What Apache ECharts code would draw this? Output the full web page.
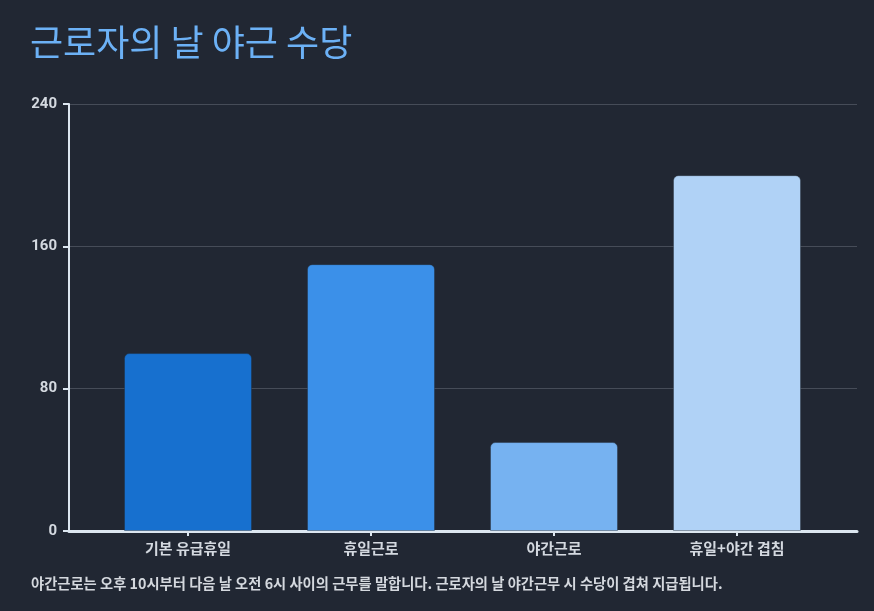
<!DOCTYPE html>
<html>
<head>
<meta charset="utf-8">
<script src="https://cdn.jsdelivr.net/npm/echarts@6/dist/echarts.min.js"></script>
<style>
  html, body { margin: 0; padding: 0; background: #212733; }
  #chart { width: 874px; height: 611px; }
</style>
</head>
<body>
<div id="chart"></div>
<script>
var categories = ['기본 유급휴일', '휴일근로', '야간근로', '휴일+야간 겹침'];
var values = [100, 150, 50, 200];
var barColors = ['#1770cf', '#3b90e9', '#76b2f1', '#b0d2f6'];
var yTicks = { min: 0, max: 240, interval: 80 };

var chart = echarts.init(document.getElementById('chart'));

var labelFont = 'Roboto, "Noto Sans CJK KR", sans-serif';

var option = {
  backgroundColor: '#212733',
  textStyle: { fontFamily: labelFont },
  title: [
    {
      text: '근로자의 날 야근 수당',
      left: 25,
      top: 19,
      textStyle: { color: '#6cb1f6', fontSize: 36, fontWeight: 'normal', fontFamily: 'Noto Sans CJK KR' }
    },
    {
      text: '야간근로는 오후 10시부터 다음 날 오전 6시 사이의 근무를 말합니다. 근로자의 날 야간근무 시 수당이 겹쳐 지급됩니다.',
      left: 26,
      top: 571,
      textStyle: { color: '#d4d8de', fontSize: 14.3, fontWeight: 'bold', fontFamily: 'Noto Sans CJK KR' }
    }
  ],
  // grid 0: frame, y axis and gridlines; grid 1: bars, inset from the frame
  grid: [
    { left: 69, right: 17, top: 104, bottom: 80 },
    { left: 96.5, right: 45.5, top: 104, bottom: 80 }
  ],
  xAxis: [
    {
      gridIndex: 0,
      type: 'value',
      min: 0,
      max: 1,
      axisLine: { show: true, lineStyle: { color: '#dce6f0', width: 3 } },
      axisTick: { show: false },
      axisLabel: { show: false },
      splitLine: { show: false }
    },
    {
      gridIndex: 1,
      type: 'category',
      data: categories,
      axisLine: { show: false },
      axisTick: { show: true, alignWithLabel: true, length: 5, lineStyle: { color: '#dce6f0', width: 2 } },
      axisLabel: { color: '#d4d9e0', fontSize: 15, fontWeight: 'bold', margin: 10, fontFamily: 'Noto Sans CJK KR' }
    }
  ],
  yAxis: [
    {
      gridIndex: 0,
      type: 'value',
      min: yTicks.min,
      max: yTicks.max,
      interval: yTicks.interval,
      axisLine: { show: true, lineStyle: { color: '#dce6f0', width: 2 } },
      axisTick: { show: true, length: 6, lineStyle: { color: '#dce6f0', width: 2 } },
      axisLabel: { color: '#d4d9e0', fontSize: 15, fontWeight: 'bold', margin: 12 },
      splitLine: { lineStyle: { color: '#464c58', width: 1 } }
    },
    {
      gridIndex: 1,
      type: 'value',
      min: yTicks.min,
      max: yTicks.max,
      interval: yTicks.interval,
      axisLine: { show: false },
      axisTick: { show: false },
      axisLabel: { show: false },
      splitLine: { show: false }
    }
  ],
  series: [
    {
      type: 'bar',
      xAxisIndex: 1,
      yAxisIndex: 1,
      barWidth: 128,
      data: values.map(function (v, i) {
        return { value: v, itemStyle: { color: barColors[i] } };
      }),
      itemStyle: { borderRadius: [5, 5, 0, 0], borderColor: 'rgba(33,39,51,0.4)', borderWidth: 1 },
      z: 1
    }
  ]
};

chart.setOption(option);
</script>
</body>
</html>
